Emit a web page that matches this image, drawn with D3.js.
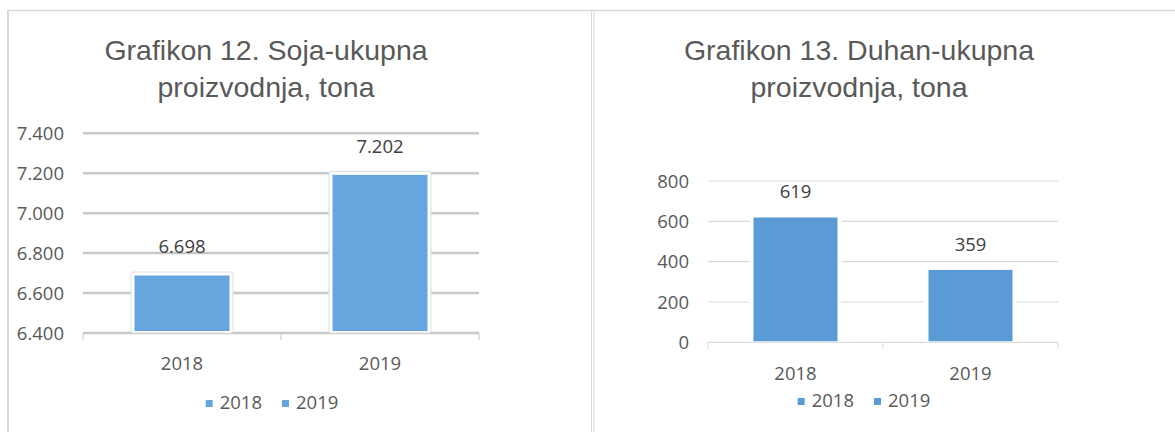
<!DOCTYPE html>
<html>
<head>
<meta charset="utf-8">
<script src="https://cdn.jsdelivr.net/npm/d3@7"></script>
<style>
  html, body { margin: 0; padding: 0; background: #fff; }
  svg { display: block; }
</style>
</head>
<body>
<div id="chart"></div>
<script>
// values
var years = ["2018", "2019"];
var sojaValues = [6698, 7202];
var duhanValues = [619, 359];
var sojaTicks = [6400, 6600, 6800, 7000, 7200, 7400];
var duhanTicks = [0, 200, 400, 600, 800];
var sojaTitle = ["Grafikon 12. Soja-ukupna", "proizvodnja, tona"];
var duhanTitle = ["Grafikon 13. Duhan-ukupna", "proizvodnja, tona"];

var bs = d3.formatLocale({decimal: ",", thousands: ".", grouping: [3], currency: ["", ""]});
var fmt = bs.format(",d");

var labelFont = "'Open Sans', sans-serif",
    titleFont = "'Liberation Sans', Arial, sans-serif";

var svg = d3.select("#chart").append("svg")
    .attr("width", 1175)
    .attr("height", 432);

// panel frames
svg.append("line").attr("x1", 7).attr("x2", 1175).attr("y1", 10.5).attr("y2", 10.5)
    .style("stroke", "#d9d9d9").style("stroke-width", 1.5);
svg.append("line").attr("x1", 8).attr("x2", 8).attr("y1", 10).attr("y2", 432)
    .style("stroke", "#d9d9d9").style("stroke-width", 2);
svg.append("line").attr("x1", 591.5).attr("x2", 591.5).attr("y1", 10).attr("y2", 432)
    .style("stroke", "#d9d9d9").style("stroke-width", 1);
svg.append("line").attr("x1", 594).attr("x2", 594).attr("y1", 10).attr("y2", 432)
    .style("stroke", "#d9d9d9").style("stroke-width", 1);

function drawChart(o) {
    var g = svg.append("g");

    var y = d3.scaleLinear().domain(o.domain).range([o.bottom, o.top]);
    var x = d3.scaleBand().domain(o.categories).range([o.left, o.right])
        .paddingInner(o.padInner).paddingOuter(o.padInner / 2);

    // title
    g.append("text")
        .attr("text-anchor", "middle")
        .style("font-family", titleFont)
        .style("font-size", "28.5px")
        .style("fill", "#595959")
        .selectAll("tspan")
        .data(o.title)
        .enter().append("tspan")
        .attr("x", o.titleX)
        .attr("y", function (d, i) { return 60 + i * 37; })
        .text(function (d) { return d; });

    // gridlines
    g.selectAll("line.grid")
        .data(o.ticks)
        .enter().append("line")
        .attr("class", "grid")
        .attr("x1", o.left).attr("x2", o.right)
        .attr("y1", function (d) { return y(d); })
        .attr("y2", function (d) { return y(d); })
        .style("stroke", o.gridColor)
        .style("stroke-width", o.gridWidth);

    // axis ticks on the category axis
    var edges = [o.left, (o.left + o.right) / 2, o.right];
    g.selectAll("line.tick")
        .data(edges)
        .enter().append("line")
        .attr("x1", function (d) { return d; })
        .attr("x2", function (d) { return d; })
        .attr("y1", o.bottom)
        .attr("y2", o.bottom + 7)
        .style("stroke", o.gridColor)
        .style("stroke-width", 1);

    // y labels
    g.selectAll("text.ylab")
        .data(o.ticks)
        .enter().append("text")
        .attr("x", o.left - 19)
        .attr("y", function (d) { return y(d); })
        .attr("dy", "0.36em")
        .attr("text-anchor", "end")
        .style("font-family", labelFont)
        .style("font-size", "18.5px")
        .style("fill", "#595959")
        .text(function (d) { return fmt(d); });

    var bars = g.selectAll("g.bar")
        .data(o.values)
        .enter().append("g")
        .attr("class", "bar");

    // white halo behind each bar
    bars.append("rect")
        .attr("x", function (d, i) { return x(o.categories[i]) - o.halo; })
        .attr("width", x.bandwidth() + o.halo * 2)
        .attr("y", function (d) { return y(d) - o.halo + o.inset; })
        .attr("height", function (d) { return o.bottom - y(d) + o.halo - o.inset; })
        .attr("rx", 2)
        .style("fill", "#fff")
        .style("stroke", o.haloStroke)
        .style("stroke-width", 1);

    bars.append("rect")
        .attr("x", function (d, i) { return x(o.categories[i]); })
        .attr("width", x.bandwidth())
        .attr("y", function (d) { return y(d) + o.inset; })
        .attr("height", function (d) { return o.bottom - y(d) - o.inset - o.bottomGap; })
        .style("fill", o.color);

    bars.append("text")
        .attr("x", function (d, i) { return x(o.categories[i]) + x.bandwidth() / 2; })
        .attr("y", function (d) { return y(d) - o.labelOffset; })
        .attr("text-anchor", "middle")
        .style("font-family", labelFont)
        .style("font-size", "18.5px")
        .style("fill", "#404040")
        .text(function (d) { return fmt(d); });

    // category labels
    g.selectAll("text.xlab")
        .data(o.categories)
        .enter().append("text")
        .attr("x", function (d) { return x(d) + x.bandwidth() / 2; })
        .attr("y", o.xLabelY)
        .attr("text-anchor", "middle")
        .style("font-family", labelFont)
        .style("font-size", "18.5px")
        .style("fill", "#595959")
        .text(function (d) { return d; });

    // legend
    var leg = g.append("g");
    var cx = 0;
    o.categories.forEach(function (c) {
        leg.append("rect")
            .attr("x", cx).attr("y", o.legendY - 9)
            .attr("width", 7).attr("height", 7)
            .style("fill", o.color);
        var t = leg.append("text")
            .attr("x", cx + 14)
            .attr("y", o.legendY)
            .style("font-family", labelFont)
            .style("font-size", "18.5px")
            .style("fill", "#595959")
            .text(c);
        cx += 14 + t.node().getComputedTextLength() + 20;
    });
    var w = cx - 20;
    leg.attr("transform", "translate(" + (o.legendX - w / 2) + ",0)");
}

drawChart({
    categories: years,
    values: sojaValues,
    ticks: sojaTicks,
    domain: [6400, 7400],
    title: sojaTitle,
    titleX: 266,
    left: 83, right: 479, top: 133.3, bottom: 333,
    padInner: 0.52,
    gridColor: "#c8c8c8", gridWidth: 2.5,
    color: "#67a5df",
    halo: 3.5, inset: 2, bottomGap: 2,
    haloStroke: "#dedede",
    labelOffset: 20,
    xLabelY: 370,
    legendX: 272, legendY: 409
});

drawChart({
    categories: years,
    values: duhanValues,
    ticks: duhanTicks,
    domain: [0, 800],
    title: duhanTitle,
    titleX: 859,
    left: 708, right: 1058, top: 181, bottom: 342.3,
    padInner: 0.52,
    gridColor: "#d9d9d9", gridWidth: 1.2,
    color: "#5b9bd5",
    halo: 4, inset: 0, bottomGap: 1,
    haloStroke: "none",
    labelOffset: 19,
    xLabelY: 380,
    legendX: 864, legendY: 407
});
</script>
</body>
</html>
